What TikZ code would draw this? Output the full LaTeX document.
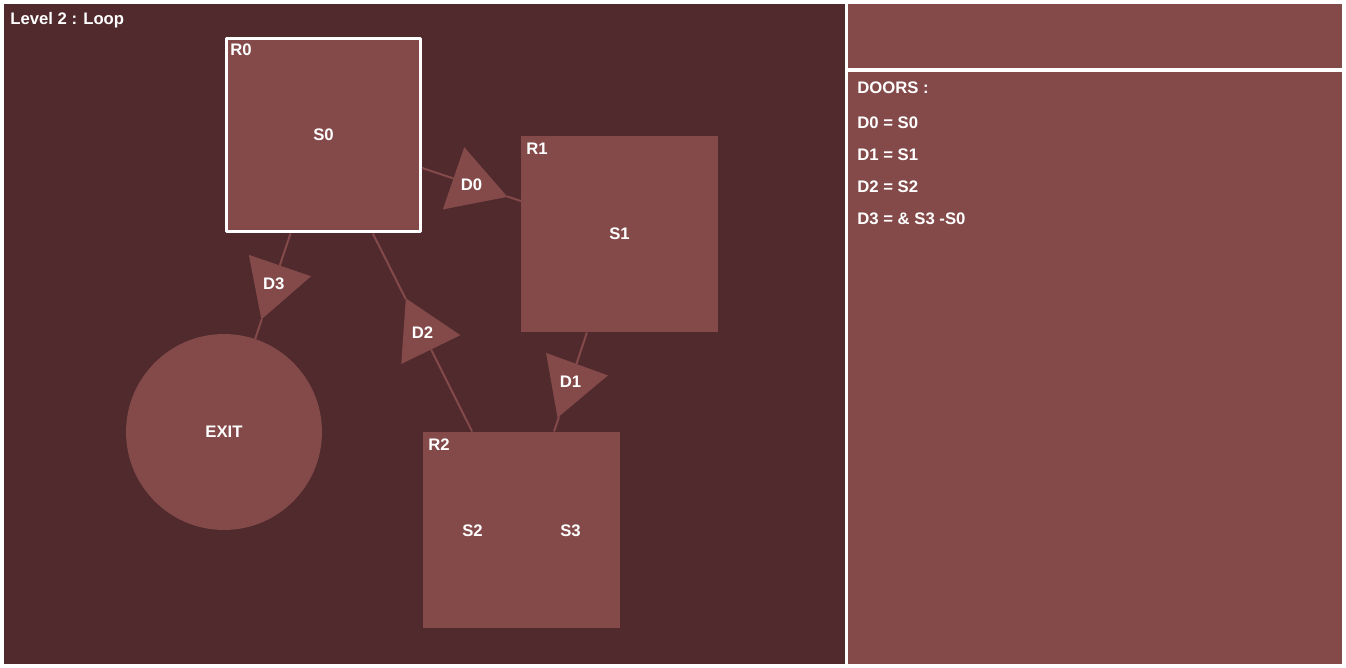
\documentclass[tikz,border=0pt]{standalone}
\usepackage{fontspec}
\setmainfont{Liberation Sans}
\usetikzlibrary{positioning,calc,shapes.geometric}
\definecolor{bgdark}{RGB}{80,42,45}
\definecolor{roomfill}{RGB}{132,74,74}

\begin{document}
\begin{tikzpicture}[x=0.02cm,y=-0.02cm,line join=bevel,
  every node/.style={text=white,font=\fontsize{9.5}{11}\selectfont\bfseries},
  room/.style={rectangle,fill=roomfill,minimum size=3.94cm,inner sep=0,outer sep=0},
  door/.style={regular polygon,regular polygon sides=3,fill=roomfill,minimum size=1.52cm,inner sep=0,outer sep=0},
  lbl/.style={anchor=base west,inner sep=0},
  link/.style={draw=roomfill,line width=0.04cm}]
\fill[white] (0,0) rectangle (1346,668);
\fill[bgdark] (4,4) rectangle (845,664);
\fill[roomfill] (848,4) rectangle (1342,68);
\fill[roomfill] (848,72) rectangle (1342,664);

\node [lbl] (title) at (10,25) {Level 2 : Loop};

% rooms
\node [room,draw=white,line width=0.06cm,minimum size=3.88cm,outer sep=0.03cm] (r0) at (323.5,135) {S0};
\node [room] (r1) at (619.5,234) {S1};
\node [room] (r2) at (521.5,530) {};
\node [circle,fill=roomfill,minimum size=3.92cm,inner sep=0,outer sep=0] (exit) at (224,432) {EXIT};

\node (s2) at ($(r2.center)+(-49,1)$) {S2};
\node (s3) at ($(r2.center)+(49,1)$) {S3};

\node [lbl] (r0lbl) at ($(r0.north west)+(5,19)$) {R0};
\node [lbl] (r1lbl) at ($(r1.north west)+(5,19)$) {R1};
\node [lbl] (r2lbl) at ($(r2.north west)+(5,19)$) {R2};

% doors
\node [door,regular polygon rotate=11] (d0) at ($(r0)!.5!(r1)$) {D0};
\node [door,regular polygon rotate=40] (d1) at ($(r1)!.5!(r2)$) {D1};
\node [door,regular polygon rotate=26] (d2) at ($(r0)!.5!(r2)$) {D2};
\node [door,regular polygon rotate=41] (d3) at ($(r0)!.5!(exit)$) {D3};

\draw [link] (r0) -- (d0) -- (r1);
\draw [link] (r1) -- (d1) -- (r2);
\draw [link] (r0) -- (d2) -- (r2);
\draw [link] (r0) -- (d3) -- (exit);

% door list
\node [lbl] (doors) at (857,94) {DOORS :};
\node [lbl] (dl0) at (857,129) {D0 = S0};
\node [lbl] (dl1) at (857,161) {D1 = S1};
\node [lbl] (dl2) at (857,193) {D2 = S2};
\node [lbl] (dl3) at (857,225) {D3 = \& S3 -S0};
\end{tikzpicture}
\end{document}
